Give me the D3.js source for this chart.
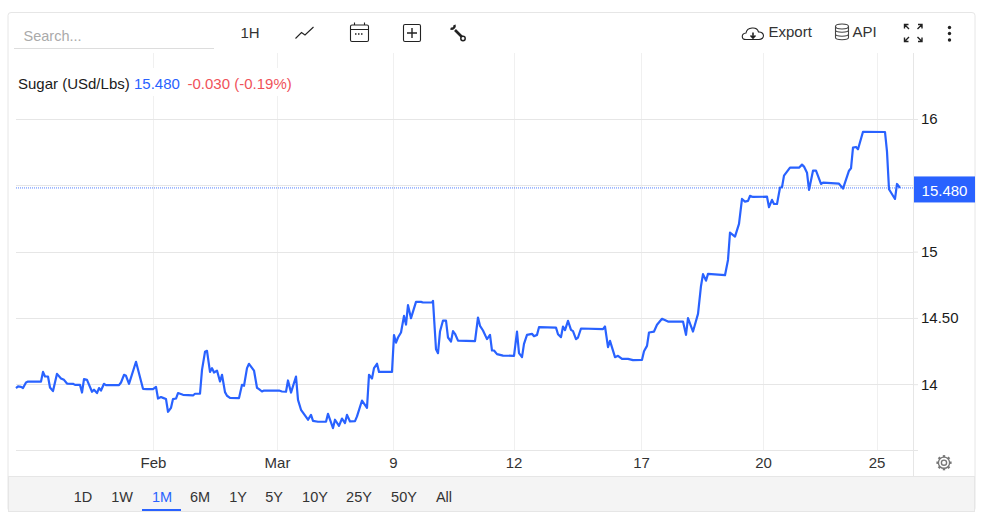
<!DOCTYPE html>
<html>
<head>
<meta charset="utf-8">
<script src="https://cdn.jsdelivr.net/npm/d3@7"></script>
<style>
html, body { margin: 0; padding: 0; background: #fff; }
svg { display: block; font-family: "Liberation Sans", Arial, sans-serif; }
</style>
</head>
<body>
<div id="chart"></div>
<script>
'use strict';
var samples = [0,2,5,7,10,12,25,27,29,32,34,37,41,45,48,51,57,59,64,66,68,71,76,78,81,83,85,88,90,103,105,108,110,113,120,127,131,137,140,142,145,147,150,152,155,157,160,162,167,177,179,184,186,189,191,194,196,198,201,204,206,209,211,214,223,226,228,231,233,238,241,243,246,248,263,266,270,272,275,280,282,285,292,295,297,302,310,312,317,319,323,326,329,331,334,339,341,346,351,353,356,358,361,363,376,378,380,382,385,388,390,392,395,400,405,407,416,417,420,422,424,427,430,432,435,437,439,442,459,462,464,467,471,474,476,478,481,487,498,501,503,506,508,511,516,518,521,523,540,542,545,547,549,552,555,557,560,562,565,587,589,592,594,599,602,606,612,617,626,628,631,633,638,641,646,652,667,670,672,677,682,685,687,690,692,709,712,714,719,723,726,729,732,734,737,751,753,756,758,761,764,766,768,774,783,786,788,791,793,797,800,805,807,823,827,833,835,837,840,842,847,869,871,873,879,881,884];
var prices = [13.971,13.983,13.980,13.971,14.013,14.020,14.020,14.093,14.058,14.058,13.975,13.948,14.078,14.043,14.033,14.005,14.003,13.995,13.995,13.937,14.038,14.033,13.943,13.958,13.933,13.971,13.952,14.003,13.993,13.993,14.013,14.071,14.063,14.003,14.169,13.965,13.963,13.963,13.980,13.892,13.903,13.897,13.888,13.792,13.822,13.888,13.892,13.933,13.920,13.915,13.928,13.928,14.108,14.244,14.252,14.093,14.121,14.088,14.103,14.020,14.071,13.940,13.913,13.897,13.895,13.995,13.988,14.121,14.154,14.103,13.973,13.963,13.945,13.952,13.952,13.945,13.943,14.028,13.937,14.058,13.882,13.807,13.732,13.769,13.724,13.717,13.717,13.777,13.669,13.732,13.686,13.741,13.707,13.769,13.719,13.722,13.757,13.877,13.822,14.071,14.043,14.121,14.154,14.093,14.093,14.370,14.314,14.352,14.390,14.515,14.450,14.596,14.498,14.621,14.621,14.616,14.616,14.628,14.264,14.234,14.397,14.480,14.480,14.352,14.322,14.400,14.380,14.329,14.325,14.503,14.440,14.405,14.340,14.372,14.254,14.254,14.227,14.216,14.214,14.397,14.234,14.204,14.304,14.372,14.380,14.362,14.372,14.430,14.427,14.377,14.355,14.435,14.408,14.478,14.410,14.400,14.340,14.352,14.420,14.415,14.435,14.280,14.327,14.204,14.214,14.191,14.191,14.182,14.184,14.249,14.289,14.390,14.397,14.448,14.493,14.472,14.472,14.372,14.498,14.397,14.530,14.741,14.830,14.781,14.832,14.822,14.937,15.143,15.113,15.209,15.397,15.377,15.382,15.420,15.412,15.414,15.335,15.390,15.359,15.359,15.482,15.485,15.573,15.633,15.633,15.656,15.641,15.595,15.465,15.610,15.610,15.510,15.520,15.512,15.475,15.610,15.628,15.784,15.789,15.772,15.904,15.902,15.754,15.470,15.397,15.510,15.480];

var xTickSamples = [137,261,377,497.5,625,747,860.5];
var xTickLabels = ['Feb','Mar','9','12','17','20','25'];
var yTicks = [14,14.5,15,15.5,16];
var yTickLabels = ['14','14.50','15','','16'];
var lastPrice = 15.48;
var rangeButtons = ['1D','1W','1M','6M','1Y','5Y','10Y','25Y','50Y','All'];
var rangeButtonX = [83,122,162,200,238,274,315,359,404,444];

var width = 984, height = 518;
var blue = '#2962ff', grid = '#e6e6e6', vgrid = '#f0f0f0', txt = '#333';

var svg = d3.select('#chart').append('svg').attr('width', width).attr('height', height);

// card
svg.append('rect').attr('x', 8).attr('y', 12.5).attr('width', 967).attr('height', 499)
    .attr('rx', 3).attr('fill', '#fff').attr('stroke', '#e6e6e6');

var x = d3.scaleLinear().domain([0, 884]).range([16, 900]);
var y = d3.scaleLinear().domain([13.5, 16]).range([450.5, 119]);

// gridlines
svg.append('g').selectAll('line').data(xTickSamples).enter().append('line')
    .attr('x1', function (d) { return Math.round(x(d)) + 0.5; })
    .attr('x2', function (d) { return Math.round(x(d)) + 0.5; })
    .attr('y1', 53).attr('y2', 450).attr('stroke', vgrid);
svg.append('g').selectAll('line').data(yTicks).enter().append('line')
    .attr('x1', 16).attr('x2', 913)
    .attr('y1', function (d) { return Math.round(y(d)) + 0.5; })
    .attr('y2', function (d) { return Math.round(y(d)) + 0.5; })
    .attr('stroke', grid);

// axes frame
svg.append('line').attr('x1', 16).attr('x2', 918).attr('y1', 450.5).attr('y2', 450.5).attr('stroke', grid);
svg.append('line').attr('x1', 913.5).attr('x2', 913.5).attr('y1', 53).attr('y2', 476).attr('stroke', grid);

// y axis
var yAxis = d3.axisRight(y).tickValues(yTicks).tickSize(5).tickPadding(3)
    .tickFormat(function (d, i) { return yTickLabels[i]; });
var yG = svg.append('g').attr('transform', 'translate(913,0)').call(yAxis);
yG.select('.domain').remove();
yG.selectAll('.tick line').attr('stroke', grid);
yG.selectAll('text').attr('font-size', 15).attr('font-family', '"Liberation Sans", Arial, sans-serif').attr('fill', '#1a1a1a');

// x axis
var xAxis = d3.axisBottom(x).tickValues(xTickSamples).tickSize(0).tickPadding(7)
    .tickFormat(function (d, i) { return xTickLabels[i]; });
var xG = svg.append('g').attr('transform', 'translate(0,450)').call(xAxis);
xG.select('.domain').remove();
xG.selectAll('text').attr('font-size', 15).attr('font-family', '"Liberation Sans", Arial, sans-serif').attr('fill', txt);

// last price line
svg.append('line').attr('x1', 16).attr('x2', 913)
    .attr('y1', y(lastPrice)).attr('y2', y(lastPrice))
    .attr('stroke', blue).attr('stroke-width', 1).attr('stroke-dasharray', '1 1').attr('opacity', 0.8);

// series
var line = d3.line()
    .x(function (d) { return x(d); })
    .y(function (d, i) { return y(prices[i]); });
svg.append('path').datum(samples).attr('d', line)
    .attr('fill', 'none').attr('stroke', blue).attr('stroke-width', 2.2).attr('stroke-linejoin', 'round');

// last price label
svg.append('rect').attr('x', 914).attr('y', y(lastPrice) - 11.5).attr('width', 61).attr('height', 26).attr('fill', blue);
svg.append('text').attr('x', 944.5).attr('y', y(lastPrice) + 8).attr('text-anchor', 'middle')
    .attr('font-size', 15).attr('fill', '#fff').text('15.480');

// legend, white box hides the gridlines behind it
svg.append('rect').attr('x', 16).attr('y', 68).attr('width', 280).attr('height', 28).attr('fill', '#fff');
var legend = svg.append('text').attr('x', 18).attr('y', 89).attr('font-size', 15);
legend.append('tspan').attr('fill', '#1a1a1a').text('Sugar (USd/Lbs)');
legend.append('tspan').attr('x', 134).attr('fill', blue).text('15.480');
legend.append('tspan').attr('x', 187.5).attr('fill', '#f0525a').text('-0.030 (-0.19%)');

// search box
svg.append('text').attr('x', 23.5).attr('y', 41).attr('font-size', 14.5).attr('fill', '#aaa').text('Search...');
svg.append('line').attr('x1', 14).attr('x2', 214).attr('y1', 48.5).attr('y2', 48.5).attr('stroke', '#ddd');

// toolbar
svg.append('text').attr('x', 250).attr('y', 38).attr('text-anchor', 'middle').attr('font-size', 15).attr('fill', txt).text('1H');
var icons = svg.append('g').attr('fill', 'none').attr('stroke', '#222').attr('stroke-width', 1.1);
icons.append('path').attr('d', 'M295.5 38.5 L301.5 32.5 L305 35 L313.5 27');
icons.append('rect').attr('x', 350.5).attr('y', 25).attr('width', 18).attr('height', 16.5).attr('rx', 1.5);
icons.append('path').attr('d', 'M350.5 29.5 H368.5 M354.5 22.5 V25 M364.5 22.5 V25');
icons.append('path').attr('d', 'M355 34 H364').attr('stroke-dasharray', '1.5 1.5').attr('stroke-width', 1.4);
icons.append('rect').attr('x', 403.5).attr('y', 24.5).attr('width', 17).attr('height', 17).attr('rx', 1.5);
icons.append('path').attr('d', 'M412 28 V38 M407 33 H417').attr('stroke-width', 1.4);
// wrench
icons.append('path').attr('d', 'M455 30 L462 37').attr('stroke-width', 2.6);
icons.append('path').attr('d', 'M450.5 28.5 A3 3 0 0 0 454.5 24.8').attr('stroke-width', 2.4);
icons.append('circle').attr('cx', 463).attr('cy', 38.5).attr('r', 2.2).attr('stroke-width', 1.5).attr('fill', '#fff');

// export / api
icons.append('path').attr('d', 'M746 39.5 C741 39.5 741 33.5 746 33 C747 27 757 26 758.5 32 C765 31.5 765 39.5 759 39.5 Z');
icons.append('path').attr('d', 'M753 32.5 V37.5 M750.5 35.5 L753 38 L755.5 35.5').attr('stroke-width', 1.6);
svg.append('text').attr('x', 768.5).attr('y', 37).attr('font-size', 15).attr('fill', txt).text('Export');
icons.append('ellipse').attr('cx', 842).attr('cy', 26.5).attr('rx', 6.5).attr('ry', 2.5).attr('stroke', '#444');
icons.append('path').attr('d', 'M835.5 26.5 V37.5 C835.5 40.5 848.5 40.5 848.5 37.5 V26.5 M835.5 30 C835.5 33 848.5 33 848.5 30 M835.5 34 C835.5 37 848.5 37 848.5 34').attr('stroke', '#444');
svg.append('text').attr('x', 852.5).attr('y', 37).attr('font-size', 15).attr('fill', txt).text('API');

// fullscreen + menu
icons.append('path').attr('d', 'M904.5 28.5 V24.5 H908.5 M904.5 24.5 L909 29 M922 28.5 V24.5 H918 M922 24.5 L917.5 29 M904.5 37.5 V41.5 H908.5 M904.5 41.5 L909 37 M922 37.5 V41.5 H918 M922 41.5 L917.5 37').attr('stroke', '#222').attr('stroke-width', 1.4);
svg.append('g').selectAll('circle').data([27.5, 33.5, 40]).enter().append('circle')
    .attr('cx', 949.5).attr('cy', function (d) { return d; }).attr('r', 1.7).attr('fill', '#222');

// settings cog
var cog = svg.append('g').attr('transform', 'translate(944,462.7)').attr('fill', 'none').attr('stroke', '#777').attr('stroke-width', 1.4);
cog.append('circle').attr('r', 2.6);
cog.append('circle').attr('r', 5.6);
cog.append('g').selectAll('line').data(d3.range(8)).enter().append('line')
    .attr('y1', -5.6).attr('y2', -7.6).attr('stroke-width', 2.4)
    .attr('transform', function (d) { return 'rotate(' + d * 45 + ')'; });

// range selector
svg.append('rect').attr('x', 8.5).attr('y', 476.5).attr('width', 966).attr('height', 35).attr('fill', '#f4f4f4').attr('stroke', '#e6e6e6');
svg.append('g').selectAll('text').data(rangeButtons).enter().append('text')
    .attr('x', function (d, i) { return rangeButtonX[i]; })
    .attr('y', 502).attr('text-anchor', 'middle').attr('font-size', 14.5)
    .attr('fill', function (d) { return d === '1M' ? blue : txt; })
    .text(function (d) { return d; });
svg.append('rect').attr('x', 142).attr('y', 509).attr('width', 39).attr('height', 2).attr('fill', blue);
</script>
</body>
</html>
